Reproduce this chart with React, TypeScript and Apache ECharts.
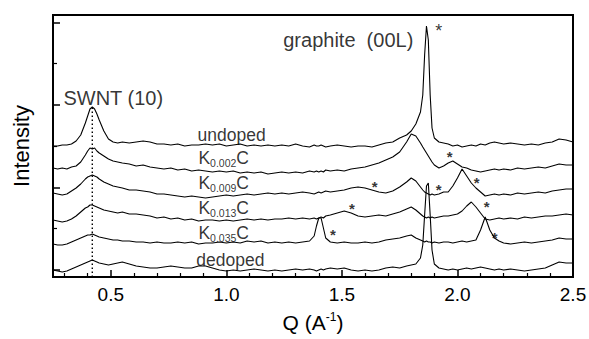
import React, { useEffect, useRef } from "react";
import * as echarts from "echarts";

// Q values (A^-1) shared by every trace
const qGrid = [
  0.25, 0.27, 0.29, 0.31, 0.33, 0.35, 0.37, 0.39, 0.40, 0.41,
  0.42, 0.43, 0.44, 0.45, 0.47, 0.49, 0.51, 0.53, 0.55, 0.58,
  0.61, 0.64, 0.67, 0.70, 0.73, 0.76, 0.79, 0.82, 0.85, 0.88,
  0.91, 0.94, 0.97, 1.00, 1.03, 1.06, 1.09, 1.12, 1.15, 1.18,
  1.21, 1.24, 1.27, 1.30, 1.33, 1.36, 1.38, 1.39, 1.40, 1.41,
  1.42, 1.43, 1.45, 1.48, 1.51, 1.54, 1.57, 1.60, 1.63, 1.66,
  1.69, 1.72, 1.75, 1.78, 1.80, 1.82, 1.84, 1.85, 1.858, 1.866,
  1.874, 1.882, 1.89, 1.90, 1.92, 1.94, 1.96, 1.98, 2.00, 2.02,
  2.04, 2.06, 2.08, 2.10, 2.12, 2.14, 2.16, 2.18, 2.20, 2.23,
  2.26, 2.29, 2.32, 2.35, 2.38, 2.41, 2.44, 2.47, 2.50,
];

// Intensities (arbitrary units, vertically offset traces)
const undoped = [
  131, 131, 132, 132, 133, 136, 142, 154, 161, 168,
  170, 168, 163, 157, 146, 138, 135, 134, 135, 134,
  135, 136, 135, 133, 133, 132, 133, 131, 132, 132,
  133, 132, 133, 131, 132, 133, 131, 132, 131, 132,
  131, 132, 131, 133, 131, 130, 132, 131, 131, 132,
  131, 130, 131, 132, 131, 130, 131, 131, 130, 132,
  134, 135, 139, 142, 146, 153, 165, 182, 222, 251,
  237, 182, 149, 139, 135, 134, 133, 131, 132, 130,
  131, 132, 131, 133, 132, 134, 135, 134, 133, 134,
  133, 132, 133, 132, 134, 135, 138, 137, 135,
];
const k0002 = [
  109, 108, 109, 108, 110, 111, 115, 122, 126, 129,
  128, 129, 126, 124, 121, 118, 116, 115, 114, 113,
  111, 112, 110, 109, 108, 109, 107, 108, 106, 107,
  106, 105, 106, 105, 106, 104, 105, 104, 105, 103,
  104, 105, 104, 105, 104, 106, 105, 106, 105, 106,
  105, 107, 106, 107, 106, 108, 109, 110, 112, 114,
  117, 120, 125, 135, 143, 141, 134, 130, 127, 124,
  121, 118, 115, 112, 109, 111, 114, 116, 113, 110,
  109, 107, 106, 105, 106, 107, 108, 107, 108, 107,
  109, 108, 109, 110, 109, 111, 113, 112, 112,
];
const k0009 = [
  84, 83, 82, 83, 86, 89, 93, 98, 100, 101,
  102, 101, 100, 98, 95, 93, 91, 90, 89, 87,
  87, 86, 85, 83, 83, 82, 81, 80, 81, 80,
  79, 80, 81, 82, 81, 82, 83, 82, 83, 84,
  83, 84, 83, 84, 85, 84, 83, 84, 85, 84,
  85, 86, 85, 86, 87, 89, 90, 89, 87, 85,
  84, 86, 90, 95, 99, 96, 90, 87, 85, 84,
  83, 82, 83, 82, 83, 85, 85, 91, 99, 108,
  101, 94, 89, 85, 81, 82, 83, 82, 83, 82,
  84, 83, 84, 85, 84, 86, 87, 88, 88,
];
const k0013 = [
  57, 56, 55, 56, 58, 61, 65, 69, 70, 72,
  72, 71, 70, 69, 67, 66, 65, 64, 65, 63,
  63, 62, 61, 59, 60, 58, 59, 57, 58, 56,
  57, 57, 56, 57, 56, 57, 58, 57, 58, 57,
  58, 58, 59, 58, 59, 58, 59, 58, 59, 60,
  59, 61, 62, 64, 66, 64, 61, 60, 61, 62,
  61, 63, 65, 68, 70, 67, 63, 61, 60, 59,
  60, 59, 60, 59, 60, 61, 61, 62, 63, 66,
  71, 75, 70, 64, 58, 57, 58, 59, 58, 59,
  58, 60, 59, 60, 61, 61, 62, 63, 62,
];
const k0035 = [
  33, 32, 32, 33, 35, 37, 39, 41, 42, 42,
  43, 42, 41, 40, 39, 38, 37, 37, 36, 36,
  35, 35, 34, 35, 34, 34, 35, 34, 35, 33,
  34, 34, 35, 34, 35, 34, 36, 35, 36, 34,
  35, 34, 35, 34, 35, 36, 41, 51, 59, 59,
  49, 39, 35, 34, 35, 34, 34, 35, 34, 35,
  37, 38, 39, 41, 42, 39, 37, 36, 35, 36,
  35, 35, 34, 35, 34, 35, 35, 34, 35, 36,
  35, 36, 37, 47, 60, 47, 39, 36, 34, 33,
  34, 35, 34, 35, 36, 37, 39, 38, 38,
];
const dedoped = [
  7, 6, 5, 6, 8, 10, 12, 14, 15, 16,
  17, 16, 15, 14, 13, 12, 13, 14, 15, 13,
  11, 10, 9, 9, 10, 11, 10, 9, 9, 11,
  11, 9, 7, 6, 7, 6, 7, 8, 7, 6,
  7, 6, 7, 8, 7, 8, 7, 6, 7, 8,
  7, 8, 9, 8, 9, 7, 6, 7, 6, 7,
  9, 10, 9, 11, 12, 13, 19, 32, 62, 91,
  94, 62, 27, 13, 9, 8, 7, 8, 7, 8,
  9, 8, 9, 10, 9, 8, 7, 8, 7, 8,
  7, 6, 7, 8, 9, 12, 15, 14, 14,
];

const traceNames = ["undoped", "K0.002C", "K0.009C", "K0.013C", "K0.035C", "dedoped"];
const traceLabels = ["undoped", "K{s|0.002}C", "K{s|0.009}C", "K{s|0.013}C", "K{s|0.035}C", "dedoped"];

// Peak markers (Q, intensity)
const starPeaks = [
  [1.919, 250],
  [1.966, 124],
  [1.642, 94],
  [1.919, 91],
  [2.083, 98],
  [1.543, 72],
  [2.126, 74],
  [1.461, 46],
  [2.161, 43],
];

const swntQ = 0.42;
const swntTop = 169;

// Tick labels / tick values
const xMajorTicks = [0.5, 1.0, 1.5, 2.0, 2.5];
const xMinorTicks = [0.3, 0.4, 0.6, 0.7, 0.8, 0.9, 1.1, 1.2, 1.3, 1.4, 1.6, 1.7, 1.8, 1.9, 2.1, 2.2, 2.3, 2.4];
const yMajorTicks = [7.5, 89.5, 172, 254.5];
const yMinorTicks = [48.5, 130.5, 213.5];

export default function App() {
  const ref = useRef<HTMLDivElement>(null);

  useEffect(() => {
    if (!ref.current) return;
    const chart = echarts.init(ref.current, null, { renderer: "svg" });
    const font = "'Liberation Sans', Arial, Helvetica, sans-serif";
    const traces = [undoped, k0002, k0009, k0013, k0035, dedoped];

    const lineSeries: any[] = traces.map((vals, i) => ({
      type: "line",
      name: traceNames[i],
      data: qGrid.map((q, j) => [q, vals[j]]),
      showSymbol: false,
      symbol: "none",
      silent: true,
      lineStyle: { color: "#000", width: 1.1 },
      z: 3,
    }));

    const labelAnchors = [
      [0.873, 142],
      [0.877, 119.5],
      [0.877, 94.5],
      [0.877, 69.5],
      [0.877, 44.5],
      [0.868, 17.5],
    ];

    const option: any = {
      animation: false,
      backgroundColor: "#fff",
      textStyle: { fontFamily: font, color: "#000" },
      grid: {
        left: 53,
        right: 16,
        top: 15,
        bottom: 62,
        show: true,
        borderColor: "#000",
        borderWidth: 2,
        backgroundColor: "transparent",
        outerBoundsMode: "none",
      },
      xAxis: [
        {
          type: "value",
          min: 0.25,
          max: 2.5,
          position: "bottom",
          axisLine: { show: true, onZero: false, lineStyle: { color: "#000", width: 2 } },
          axisTick: { show: true, inside: true, length: 7, customValues: xMajorTicks, lineStyle: { color: "#000", width: 1.5 } },
          axisLabel: {
            show: true,
            customValues: xMajorTicks,
            formatter: (v: number) => v.toFixed(1),
            fontSize: 19,
            fontFamily: font,
            color: "#000",
            margin: 8,
          },
          splitLine: { show: false },
          name: "Q (A{sup|-1})",
          nameLocation: "middle",
          nameGap: 34,
          nameTextStyle: {
            fontSize: 21,
            fontFamily: font,
            color: "#000",
            lineHeight: 22,
            rich: {
              sup: { fontSize: 12, lineHeight: 12, padding: [0, 0, 10, 0], fontFamily: font, color: "#000" },
            },
          },
        },
        {
          type: "value",
          min: 0.25,
          max: 2.5,
          position: "bottom",
          axisLine: { show: false },
          axisTick: { show: true, inside: true, length: 4, customValues: xMinorTicks, lineStyle: { color: "#000", width: 1.2 } },
          axisLabel: { show: false },
          splitLine: { show: false },
        },
      ],
      yAxis: [
        {
          type: "value",
          min: 0,
          max: 262,
          position: "left",
          axisLine: { show: true, onZero: false, lineStyle: { color: "#000", width: 2 } },
          axisTick: { show: true, inside: true, length: 7, customValues: yMajorTicks, lineStyle: { color: "#000", width: 1.5 } },
          axisLabel: { show: false },
          splitLine: { show: false },
          name: "Intensity",
          nameLocation: "middle",
          nameGap: 21,
          nameTextStyle: { fontSize: 22, fontFamily: font, color: "#000" },
        },
        {
          type: "value",
          min: 0,
          max: 262,
          position: "left",
          axisLine: { show: false },
          axisTick: { show: true, inside: true, length: 4, customValues: yMinorTicks, lineStyle: { color: "#000", width: 1.2 } },
          axisLabel: { show: false },
          splitLine: { show: false },
        },
      ],
      series: [
        ...lineSeries,
        {
          type: "line",
          name: "SWNT (10) position",
          data: [
            [swntQ, 0],
            [swntQ, swntTop],
          ],
          showSymbol: false,
          symbol: "none",
          silent: true,
          lineStyle: { color: "#000", width: 1.4, type: [1.5, 2.5] },
          z: 2,
        },
        {
          type: "scatter",
          name: "trace labels",
          symbolSize: 1,
          itemStyle: { color: "transparent" },
          silent: true,
          z: 5,
          data: traceLabels.map((t, i) => ({ name: t, value: labelAnchors[i] })),
          label: {
            show: true,
            position: "right",
            distance: 0,
            formatter: (p: any) => p.name,
            fontSize: 17.5,
            lineHeight: 21.5,
            fontFamily: font,
            color: "#000",
            rich: {
              s: { fontSize: 10.5, lineHeight: 10.5, padding: [11, 0, 0, 0], fontFamily: font, color: "#000" },
            },
          },
        },
        {
          type: "scatter",
          name: "peak labels",
          symbolSize: 1,
          itemStyle: { color: "transparent" },
          silent: true,
          z: 5,
          data: [
            { name: "SWNT (10)", value: [0.293, 179] },
            { name: "graphite \u00a0(00L)", value: [1.244, 237] },
          ],
          label: {
            show: true,
            position: "right",
            distance: 0,
            formatter: (p: any) => p.name,
            fontSize: 20,
            fontFamily: font,
            color: "#000",
          },
        },
        {
          type: "scatter",
          name: "peak stars",
          symbolSize: 1,
          itemStyle: { color: "transparent" },
          silent: true,
          z: 5,
          data: starPeaks.map((s, i) =>
            i === 0
              ? { value: s, label: { fontWeight: "normal", fontSize: 18, offset: [0, 4] } }
              : { value: s }
          ),
          label: {
            show: true,
            position: "inside",
            formatter: "*",
            fontSize: 15,
            fontWeight: "bold",
            fontFamily: font,
            color: "#000",
            offset: [0, 3.4],
          },
        },
      ],
    };

    chart.setOption(option);
    return () => {
      chart.dispose();
    };
  }, []);

  return (
    <div
      ref={ref}
      style={{ position: "absolute", left: 0, top: 0, width: 589, height: 339, background: "#fff" }}
    />
  );
}
